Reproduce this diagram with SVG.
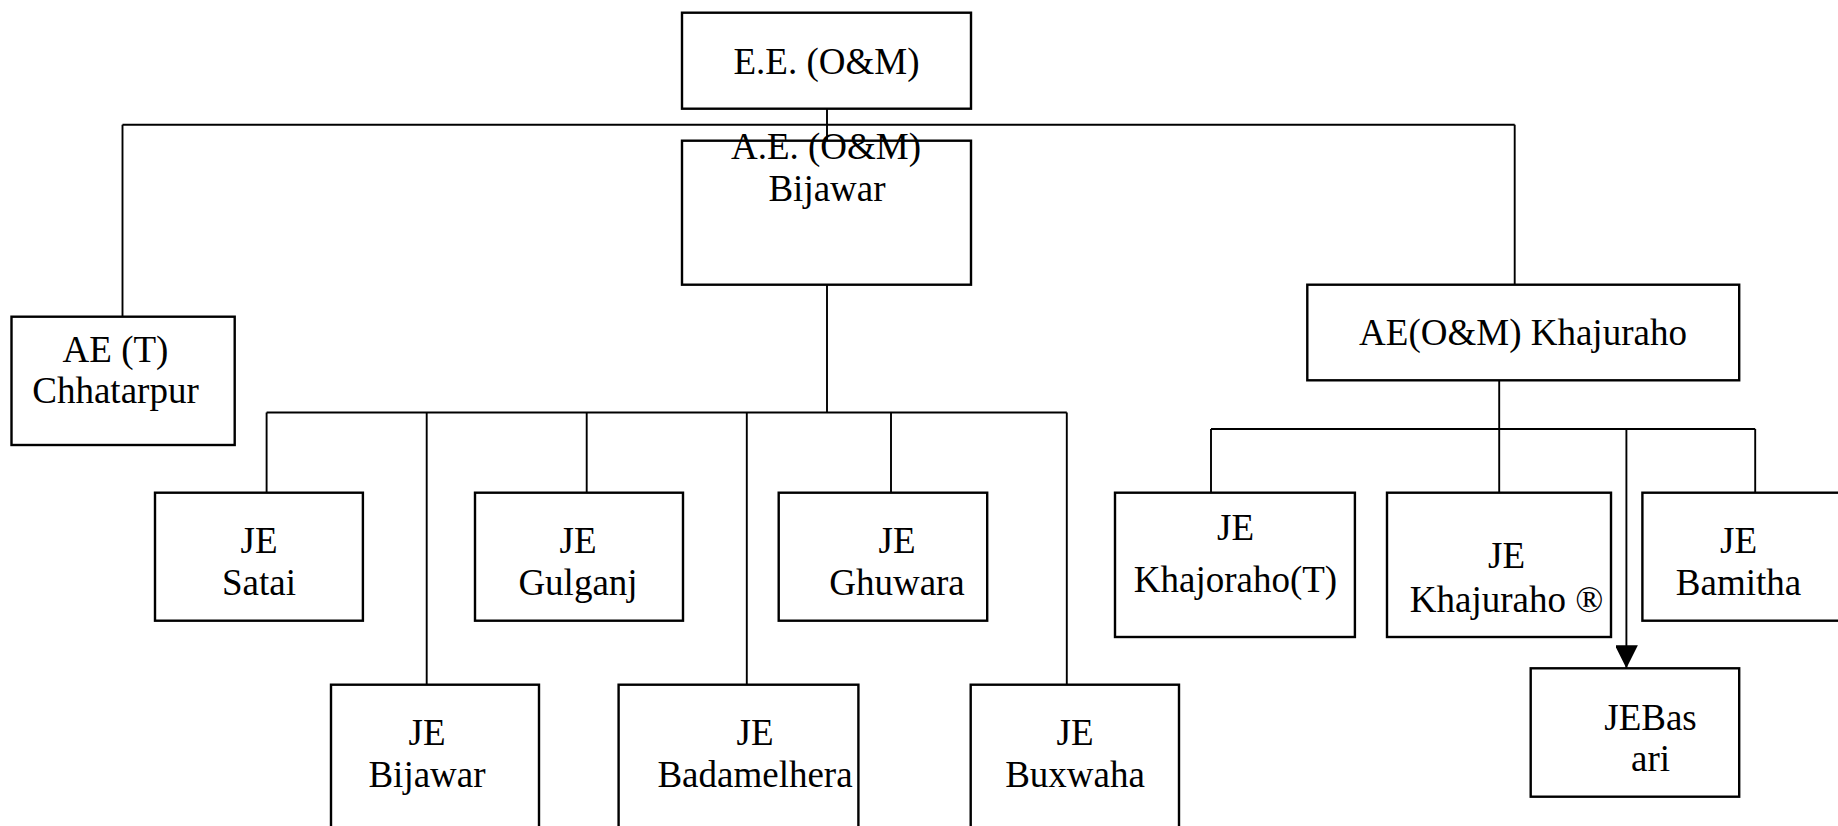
<svg xmlns="http://www.w3.org/2000/svg" width="1838" height="826" viewBox="0 0 1838 826">
  <style>
    .box { fill: #ffffff; stroke: #000000; stroke-width: 2.4; }
    .wire { fill: none; stroke: #000000; stroke-width: 1.9; }
    .lbl { font-family: "Liberation Serif", "Times New Roman", serif; font-size: 37px; fill: #000000; text-anchor: middle; }
  </style>
  <defs>
    <marker id="arrow" markerUnits="userSpaceOnUse" markerWidth="24" markerHeight="22" refX="23" refY="11.5" orient="auto">
      <path d="M0,0 L23,11.5 L0,23 Z" fill="#000000"/>
    </marker>
  </defs>

  <rect width="1838" height="826" fill="#ffffff"/>

  <!-- connectors -->
  <g id="connectors">
    <!-- E.E. to the three assistant engineers -->
    <line class="wire" x1="827" y1="108.7" x2="827" y2="140.7"/>
    <line class="wire" x1="122.5" y1="124.7" x2="1514.7" y2="124.7"/>
    <line class="wire" x1="122.5" y1="124.7" x2="122.5" y2="316.7"/>
    <line class="wire" x1="1514.7" y1="124.7" x2="1514.7" y2="284.7"/>

    <!-- A.E. Bijawar branch -->
    <line class="wire" x1="827" y1="284.7" x2="827" y2="412.5"/>
    <line class="wire" x1="266.6" y1="412.5" x2="1066.8" y2="412.5"/>
    <line class="wire" x1="266.6" y1="412.5" x2="266.6" y2="492.7"/>
    <line class="wire" x1="426.7" y1="412.5" x2="426.7" y2="684.7"/>
    <line class="wire" x1="586.7" y1="412.5" x2="586.7" y2="492.7"/>
    <line class="wire" x1="746.8" y1="412.5" x2="746.8" y2="684.7"/>
    <line class="wire" x1="891" y1="412.5" x2="891" y2="492.7"/>
    <line class="wire" x1="1066.8" y1="412.5" x2="1066.8" y2="684.7"/>

    <!-- AE Khajuraho branch -->
    <line class="wire" x1="1499.2" y1="380.3" x2="1499.2" y2="492.7"/>
    <line class="wire" x1="1211" y1="429" x2="1755.2" y2="429"/>
    <line class="wire" x1="1211" y1="429" x2="1211" y2="492.7"/>
    <line class="wire" x1="1755.2" y1="429" x2="1755.2" y2="492.7"/>
    <line class="wire" x1="1626.4" y1="429" x2="1626.4" y2="668.3" marker-end="url(#arrow)"/>
  </g>

  <!-- nodes -->
  <g id="ee">
    <rect class="box" x="682" y="12.7" width="289" height="96"/>
    <text class="lbl" x="826.5" y="74">E.E. (O&amp;M)</text>
  </g>

  <g id="ae-bijawar">
    <rect class="box" x="682" y="140.7" width="289" height="144" fill-opacity="0"/>
    <text class="lbl" x="826" y="158.5">A.E. (O&amp;M)</text>
    <text class="lbl" x="827" y="200.7">Bijawar</text>
  </g>

  <g id="ae-chhatarpur">
    <rect class="box" x="11.5" y="316.7" width="223.2" height="128.3"/>
    <text class="lbl" x="115.5" y="361.7">AE (T)</text>
    <text class="lbl" x="115.5" y="402.7">Chhatarpur</text>
  </g>

  <g id="ae-khajuraho">
    <rect class="box" x="1307.3" y="284.7" width="431.9" height="95.6"/>
    <text class="lbl" x="1523" y="345">AE(O&amp;M) Khajuraho</text>
  </g>

  <g id="je-satai">
    <rect class="box" x="155" y="492.7" width="207.9" height="128"/>
    <text class="lbl" x="259" y="553.3">JE</text>
    <text class="lbl" x="259" y="595">Satai</text>
  </g>

  <g id="je-gulganj">
    <rect class="box" x="475" y="492.7" width="208" height="128"/>
    <text class="lbl" x="578" y="553.3">JE</text>
    <text class="lbl" x="578" y="595">Gulganj</text>
  </g>

  <g id="je-ghuwara">
    <rect class="box" x="778.7" y="492.7" width="208.5" height="128"/>
    <text class="lbl" x="897" y="553.3">JE</text>
    <text class="lbl" x="897" y="595">Ghuwara</text>
  </g>

  <g id="je-bijawar">
    <rect class="box" x="331" y="684.7" width="208" height="160"/>
    <text class="lbl" x="427" y="745">JE</text>
    <text class="lbl" x="427" y="786.7">Bijawar</text>
  </g>

  <g id="je-badamelhera">
    <rect class="box" x="618.6" y="684.7" width="239.8" height="160"/>
    <text class="lbl" x="755" y="745">JE</text>
    <text class="lbl" x="755" y="786.7">Badamelhera</text>
  </g>

  <g id="je-buxwaha">
    <rect class="box" x="970.7" y="684.7" width="208.3" height="160"/>
    <text class="lbl" x="1075" y="745">JE</text>
    <text class="lbl" x="1075" y="786.7">Buxwaha</text>
  </g>

  <g id="je-khajoraho-t">
    <rect class="box" x="1115" y="492.7" width="239.9" height="144.3"/>
    <text class="lbl" x="1235.5" y="540">JE</text>
    <text class="lbl" x="1235.5" y="591.7">Khajoraho(T)</text>
  </g>

  <g id="je-khajuraho-r">
    <rect class="box" x="1387" y="492.7" width="224" height="144.3"/>
    <text class="lbl" x="1506.5" y="568.3">JE</text>
    <text class="lbl" x="1506.5" y="611.7">Khajuraho ®</text>
  </g>

  <g id="je-bamitha">
    <rect class="box" x="1642.4" y="492.7" width="220" height="128"/>
    <text class="lbl" x="1738.5" y="553.3">JE</text>
    <text class="lbl" x="1738.5" y="595">Bamitha</text>
  </g>

  <g id="je-basari">
    <rect class="box" x="1530.7" y="668.3" width="208.5" height="128.4"/>
    <text class="lbl" x="1650.5" y="730">JEBas</text>
    <text class="lbl" x="1650.5" y="770.7">ari</text>
  </g>
</svg>
